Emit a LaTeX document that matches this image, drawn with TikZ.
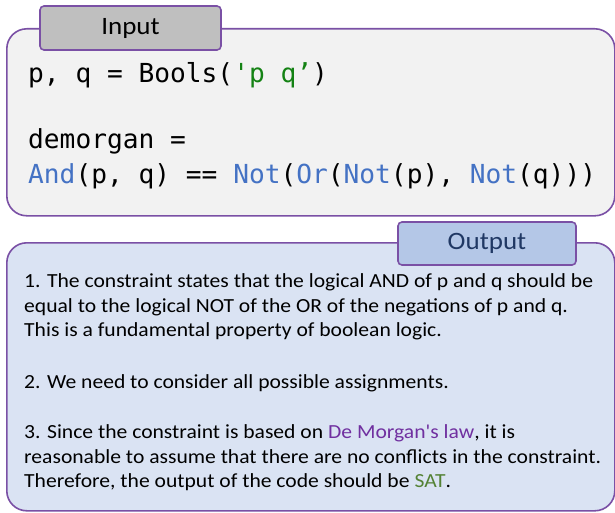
\documentclass[tikz,border=0pt]{standalone}
\usepackage{fontspec}
\setmainfont{Carlito}
\newfontfamily\bodyfont{Carlito}[FakeStretch=1.08]
\newfontfamily\codefont{DejaVu Sans Mono}
\definecolor{frame}{RGB}{122,80,165}
\definecolor{inbg}{RGB}{242,242,242}
\definecolor{intab}{RGB}{191,191,191}
\definecolor{outbg}{RGB}{218,227,243}
\definecolor{outtab}{RGB}{180,199,231}
\definecolor{outtext}{RGB}{32,56,100}
\definecolor{kw}{RGB}{68,114,196}
\definecolor{str}{RGB}{20,130,20}
\definecolor{law}{RGB}{112,48,160}
\definecolor{sat}{RGB}{84,130,53}

\begin{document}
\begin{tikzpicture}[x = 1pt, y = -1pt,
    panel/.style = {draw=frame, line width=1.6pt, rounded corners=20pt,
                    inner sep=0pt, anchor=north west},
    tab/.style   = {draw=frame, line width=1.6pt, rounded corners=4pt,
                    inner sep=0pt, font=\bodyfont\fontsize{25}{30}\selectfont},
    code/.style  = {inner sep=0pt, anchor=base west,
                    font=\codefont\fontsize{26.2}{30}\selectfont},
    body/.style  = {inner sep=0pt, anchor=base west,
                    font=\bodyfont\fontsize{20}{24}\selectfont}]
    \useasboundingbox (0,0) rectangle (615,513);

    % input block
    \node[panel, fill=inbg, minimum width=608pt, minimum height=187pt]
        (inbox) at (6,28) {};
    \node[tab, fill=intab, minimum width=181pt, minimum height=44pt]
        (intab) at (130.5,28) {Input};
    \node[code] (c1) at (28,83)
        {p, q = Bools(\textcolor{str}{'p q’})};
    \node[code] (c2) at (28,149) {demorgan =};
    \node[code] (c3) at (28,183)
        {\textcolor{kw}{And}(p, q) == \textcolor{kw}{Not}(\textcolor{kw}{Or}(\textcolor{kw}{Not}(p), \textcolor{kw}{Not}(q)))};

    % output block
    \node[panel, fill=outbg, minimum width=608pt, minimum height=268pt]
        (outbox) at (6,242) {};
    \node[tab, fill=outtab, text=outtext, minimum width=178pt, minimum height=43pt]
        (outtab) at (487,243.5) {Output};
    \node[body] (l1) at (24,287)
        {1. The constraint states that the logical AND of p and q should be};
    \node[body] (l2) at (24,312)
        {equal to the logical NOT of the OR of the negations of p and q.};
    \node[body] (l3) at (24,336)
        {This is a fundamental property of boolean logic.};
    \node[body] (l4) at (24,388)
        {2. We need to consider all possible assignments.};
    \node[body] (l5) at (24,438)
        {3. Since the constraint is based on \textcolor{law}{De Morgan's law}, it is};
    \node[body] (l6) at (24,463)
        {reasonable to assume that there are no conflicts in the constraint.};
    \node[body] (l7) at (24,487)
        {Therefore, the output of the code should be \textcolor{sat}{SAT}.};
\end{tikzpicture}
\end{document}
